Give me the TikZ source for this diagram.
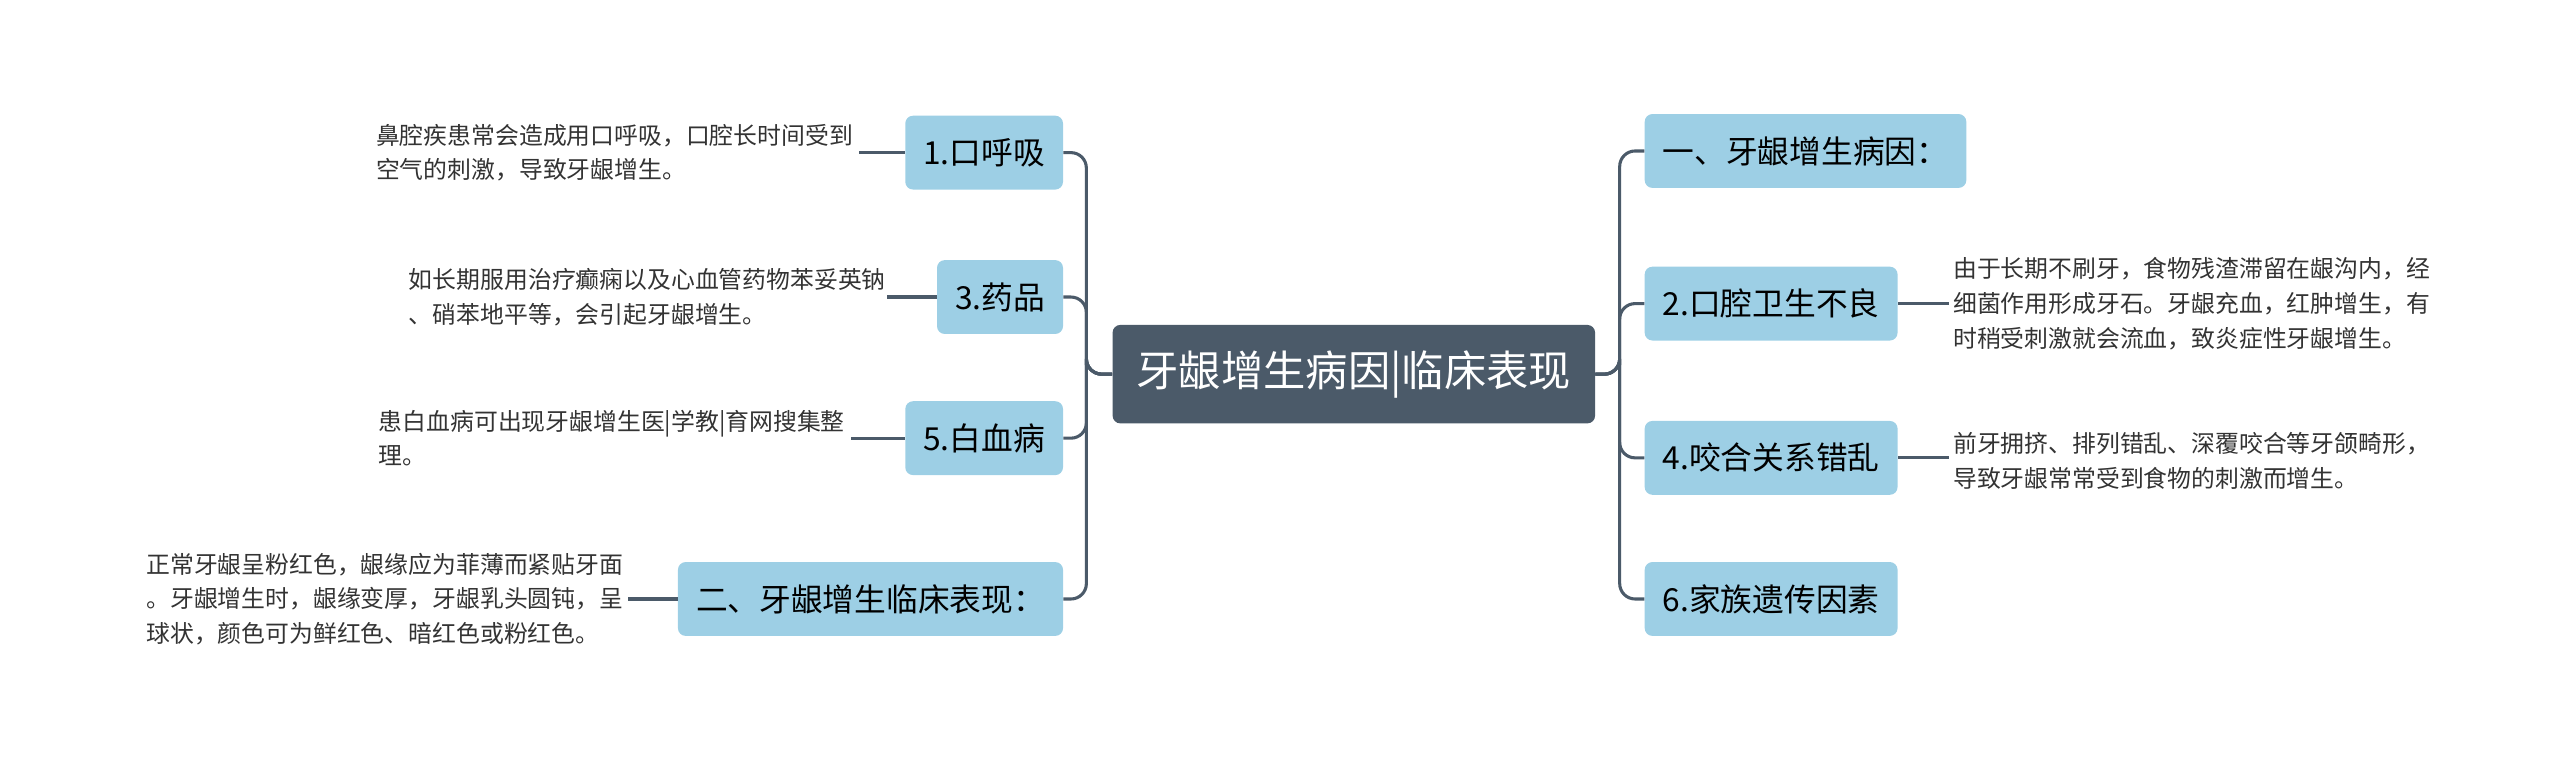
\documentclass[tikz,border=0pt]{standalone}
\usepackage{fontspec}
\setmainfont{Noto Sans CJK SC}
\usepackage{tikz}
\definecolor{topicblue}{HTML}{9DCFE5}
\definecolor{rootgray}{HTML}{4B5A69}
\definecolor{leaftext}{HTML}{333333}
\tikzset{
  topic/.style={rounded corners=4pt, fill=topicblue, text=black, font=\fontsize{16.5pt}{20pt}\selectfont,
    minimum height=1.35cm, inner xsep=0.33cm},
  leaf/.style={text=leaftext, font=\fontsize{12.4pt}{18pt}\selectfont, align=left, inner sep=0pt},
  link/.style={draw=rootgray, line width=1.6pt, rounded corners=8pt}
}
\begin{document}
\begin{tikzpicture}[x=0.03cm, y=-0.03cm]
  \useasboundingbox (0,0) rectangle (1560,464);

  \node[rounded corners=4pt, fill=rootgray, text=white, font=\fontsize{22pt}{26pt}\selectfont,
    minimum height=1.8cm, minimum width=8.82cm] (R) at (825,228) {牙龈增生病因|临床表现};

  % left side
  \node[topic, anchor=east] (L1) at (648,93) {1.口呼吸};
  \node[topic, anchor=east] (L3) at (648,181) {3.药品};
  \node[topic, anchor=east] (L5) at (648,267) {5.白血病};
  \node[topic, anchor=east] (L2) at (648,365) {二、牙龈增生临床表现：};

  % right side
  \node[topic, anchor=west] (R1) at (1002,92) {一、牙龈增生病因：};
  \node[topic, anchor=west] (R2) at (1002,185) {2.口腔卫生不良};
  \node[topic, anchor=west] (R4) at (1002,279) {4.咬合关系错乱};
  \node[topic, anchor=west] (R6) at (1002,365) {6.家族遗传因素};

  % leaves
  \node[leaf, anchor=east] (T1) at (520,93) {鼻腔疾患常会造成用口呼吸，口腔长时间受到\\空气的刺激，导致牙龈增生。};
  \node[leaf, anchor=east] (T3) at (540,181) {如长期服用治疗癫痫以及心血管药物苯妥英钠\\、硝苯地平等，会引起牙龈增生。};
  \node[leaf, anchor=east] (T5) at (515,267) {患白血病可出现牙龈增生医|学教|育网搜集整\\理。};
  \node[leaf, anchor=east] (T2) at (380,365) {正常牙龈呈粉红色，龈缘应为菲薄而紧贴牙面\\。牙龈增生时，龈缘变厚，牙龈乳头圆钝，呈\\球状，颜色可为鲜红色、暗红色或粉红色。};
  \node[leaf, anchor=west] (U2) at (1190,185) {由于长期不刷牙，食物残渣滞留在龈沟内，经\\细菌作用形成牙石。牙龈充血，红肿增生，有\\时稍受刺激就会流血，致炎症性牙龈增生。};
  \node[leaf, anchor=west] (U4) at (1190,281) {前牙拥挤、排列错乱、深覆咬合等牙颌畸形，\\导致牙龈常常受到食物的刺激而增生。};

  % connectors
  \foreach \n in {L1,L3,L5,L2}
    \draw[link] (R.west) -| (662,228) |- (\n.east);
  \foreach \n in {R1,R2,R4,R6}
    \draw[link] (R.east) -| (987,228) |- (\n.west);
  \draw[link] (L1.west) -- ++(-28,0);
  \draw[link] (L3.west) -- ++(-30,0);
  \draw[link] (L5.west) -- ++(-33,0);
  \draw[link] (L2.west) -- ++(-30,0);
  \draw[link] (R2.east) -- ++(31,0);
  \draw[link] (R4.east) -- ++(31,0);
\end{tikzpicture}
\end{document}
